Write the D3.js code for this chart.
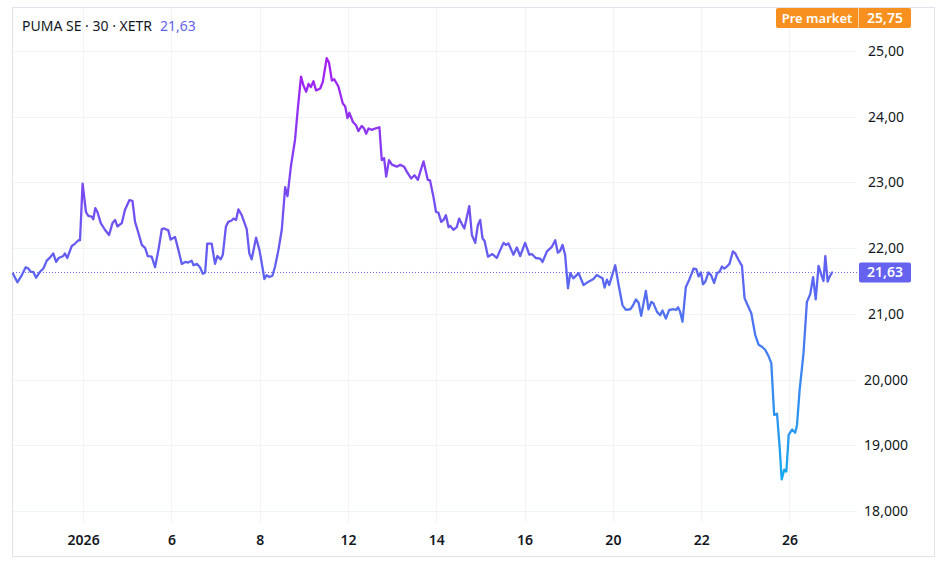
<!DOCTYPE html>
<html lang="en">
<head>
<meta charset="UTF-8">
<title>PUMA SE · 30 · XETR</title>
<style>
  body { margin: 0; background: #fff; }
  svg text { font-family: "Noto Sans", sans-serif; }
</style>
<script src="https://d3js.org/d3.v7.min.js"></script>
</head>
<body>
<script>
// 30-minute bars counted from the first bar on screen
const barTime = [
  0,1.7,3.4,4.9,5.9,6.8,7.8,8.9,10.4,11.7,13.0,14.3,15.5,16.6,17.6,19.4,20.0,20.9,22.6,23.9,
  25.2,25.8,26.8,28.1,29.0,30.3,30.9,31.7,32.5,33.8,35.4,37.0,38.3,39.3,40.2,41.9,43.1,44.8,46.0,47.0,
  48.3,49.6,50.9,51.9,53.4,
  54.7,56.0,57.3,58.2,59.8,60.7,62.4,63.7,65.0,66.3,67.5,68.8,69.5,70.8,72.0,73.1,74.0,74.8,76.5,77.8,
  78.7,80.0,80.8,82.0,82.9,84.2,84.9,85.9,86.8,88.1,90.0,91.0,91.9,93.6,94.9,95.8,96.8,97.7,98.7,99.9,
  100.9,102.2,103.5,
  104.8,105.7,107.0,108.6,109.7,110.9,111.8,112.9,113.8,114.7,115.7,116.7,118.3,119.3,120.8,121.7,122.8,123.7,125.3,127.0,
  127.9,128.8,129.5,130.9,132.1,133.0,134.3,135.2,136.0,136.9,138.2,139.4,141.1,142.0,142.9,143.7,144.8,145.9,147.8,149.1,
  150.6,151.7,
  153.3,154.6,155.9,156.8,158.1,159.7,160.6,161.9,162.9,163.8,164.9,165.8,166.7,167.7,168.3,169.6,170.9,171.8,172.8,173.8,
  175.7,176.7,178.0,179.0,179.9,180.8,181.6,182.9,184.6,186.3,187.6,188.9,189.8,190.8,192.7,194.0,195.3,197.2,198.8,199.8,
  201.3,203.0,203.9,205.6,
  207.5,208.8,209.8,210.7,211.6,212.6,213.7,214.6,215.8,217.8,219.7,221.6,223.5,224.8,226.1,227.0,227.8,228.7,229.6,231.9,
  233.2,234.7,236.0,237.7,238.6,239.9,240.9,241.9,243.7,244.7,245.8,246.6,248.0,249.2,250.1,251.4,252.7,254.4,255.3,256.1,
  256.9,257.8,259.1,260.4,262.1,
  263.1,264.0,264.9,265.7,266.6,267.8,268.8,270.0,271.1,272.1,273.0,273.9,274.9,275.9,277.2,278.1,279.4,280.7,281.7,282.9,
  284.3,285.8,287.1,288.4,289.7,291.0,292.0,293.1,294.2,295.2,296.0,297.0,297.8,298.7,300.0,301.2,301.9,302.9,304.4,305.7,
  307.0,308.1,309.1,310.2,311.3,312.1,312.8,313.7,314.4,315.4
];

const prices = [
  21.61,21.48,21.59,21.71,21.69,21.64,21.64,21.55,21.64,21.69,21.81,21.86,21.92,21.79,21.85,21.88,21.92,21.85,22.03,22.07,
  22.12,22.12,22.98,22.55,22.49,22.48,22.44,22.61,22.55,22.38,22.28,22.20,22.38,22.43,22.33,22.38,22.58,22.73,22.72,22.40,
  22.23,22.05,22.00,21.88,21.87,
  21.71,21.97,22.29,22.30,22.27,22.13,22.17,21.97,21.76,21.79,21.78,21.81,21.74,21.76,21.71,21.61,21.63,22.07,22.07,21.76,
  21.88,21.83,21.90,22.33,22.40,22.42,22.45,22.43,22.59,22.50,22.29,21.92,21.83,22.16,21.97,21.77,21.53,21.59,21.56,21.58,
  21.72,21.97,22.28,
  22.93,22.79,23.24,23.65,24.13,24.61,24.48,24.38,24.50,24.45,24.54,24.40,24.43,24.53,24.89,24.82,24.55,24.57,24.46,24.20,
  24.16,23.98,24.06,23.92,23.87,23.78,23.86,23.82,23.74,23.82,23.80,23.82,23.84,23.34,23.37,23.09,23.34,23.27,23.24,23.27,
  23.24,23.16,
  23.06,23.11,23.04,23.16,23.32,23.04,23.03,22.78,22.55,22.54,22.40,22.43,22.50,22.32,22.34,22.28,22.32,22.45,22.37,22.30,
  22.64,22.20,22.08,22.35,22.43,22.15,22.11,21.87,21.91,21.85,21.97,22.08,22.05,22.07,21.90,22.01,21.88,22.08,21.90,21.91,
  21.85,21.84,21.79,21.95,
  22.02,22.12,21.93,21.96,22.05,21.90,21.39,21.62,21.54,21.62,21.44,21.49,21.53,21.59,21.56,21.54,21.40,21.52,21.44,21.74,
  21.44,21.13,21.06,21.07,21.12,21.22,21.17,20.97,21.35,21.07,21.18,21.16,21.03,20.98,21.05,20.93,21.06,21.07,21.06,21.10,
  21.03,20.88,21.41,21.52,21.69,
  21.68,21.57,21.63,21.45,21.49,21.63,21.59,21.47,21.62,21.64,21.72,21.69,21.72,21.76,21.95,21.92,21.82,21.73,21.24,21.13,
  21.01,20.68,20.53,20.50,20.45,20.35,20.25,19.46,19.48,18.98,18.48,18.63,18.60,19.16,19.24,19.19,19.31,19.84,20.40,21.18,
  21.30,21.56,21.22,21.73,21.59,21.50,21.88,21.49,21.56,21.63
];

// time axis: one label every two trading days (17 bars a day)
const timeTicks = [27, 61, 95, 129, 163, 197, 231, 265, 299];
const timeLabels = ["2026", "6", "8", "12", "14", "16", "20", "22", "26"];

const priceTicks = [18, 19, 20, 21, 22, 23, 24, 25];
const priceLabels = ["18,000", "19,000", "20,000", "21,00", "22,00", "23,00", "24,00", "25,00"];

const lastPrice = 21.63;
const lastLabel = "21,63";
const preMarketLabel = "25,75";
const title = "PUMA SE · 30 · XETR";

const W = 948, H = 578;
const frame = { left: 12.5, top: 7.5, right: 934.5, bottom: 556.5 };
const plotRight = 857;
const gridBottom = 522;

const svg = d3.select("body").append("svg")
  .attr("width", W)
  .attr("height", H);

const x = d3.scaleLinear().domain([0, 325]).range([13, plotRight]);
const y = d3.scaleLinear().domain([18, 25]).range([511, 51]);

// frame
svg.append("rect")
  .attr("x", frame.left).attr("y", frame.top)
  .attr("width", frame.right - frame.left)
  .attr("height", frame.bottom - frame.top)
  .attr("fill", "#fff")
  .attr("stroke", "#e0e3eb");

// grid
svg.append("g").selectAll("line")
  .data(timeTicks)
  .join("line")
  .attr("x1", d => Math.round(x(d)) + 0.5)
  .attr("x2", d => Math.round(x(d)) + 0.5)
  .attr("y1", frame.top + 0.5)
  .attr("y2", gridBottom)
  .attr("stroke", "#f0f3fa");

svg.append("g").selectAll("line")
  .data(priceTicks)
  .join("line")
  .attr("x1", 13)
  .attr("x2", plotRight)
  .attr("y1", d => Math.round(y(d)) + 0.5)
  .attr("y2", d => Math.round(y(d)) + 0.5)
  .attr("stroke", "#f0f3fa");

// axes labels
const xAxis = d3.axisBottom(x)
  .tickValues(timeTicks)
  .tickFormat((d, i) => timeLabels[i])
  .tickSize(0)
  .tickPadding(0);

const gx = svg.append("g")
  .attr("transform", `translate(0, ${535})`)
  .call(xAxis);
gx.select(".domain").remove();
gx.selectAll("text")
  .attr("font-size", 14)
  .attr("font-weight", 600)
  .attr("font-family", "\"Noto Sans\", sans-serif")
  .attr("fill", "#131722");

const yAxis = d3.axisRight(y)
  .tickValues(priceTicks)
  .tickFormat((d, i) => priceLabels[i])
  .tickSize(0)
  .tickPadding(0);

const gy = svg.append("g")
  .attr("transform", `translate(${886}, 0)`)
  .call(yAxis);
gy.select(".domain").remove();
gy.selectAll("text")
  .attr("text-anchor", "middle")
  .attr("font-size", 14)
  .attr("font-family", "\"Noto Sans\", sans-serif")
  .attr("fill", "#131722");

// last price dotted line
svg.append("line")
  .attr("x1", 13).attr("x2", plotRight)
  .attr("y1", y(lastPrice)).attr("y2", y(lastPrice))
  .attr("stroke", "#6b63ef")
  .attr("stroke-width", 1)
  .attr("stroke-dasharray", "1,2");

// gradient line
const grad = svg.append("defs").append("linearGradient")
  .attr("id", "lineGrad")
  .attr("gradientUnits", "userSpaceOnUse")
  .attr("x1", 0).attr("x2", 0)
  .attr("y1", y(d3.max(prices)))
  .attr("y2", y(d3.min(prices)));
grad.append("stop").attr("offset", "0%").attr("stop-color", "#a61ff3");
grad.append("stop").attr("offset", "50%").attr("stop-color", "#5f62f1");
grad.append("stop").attr("offset", "100%").attr("stop-color", "#17aaf0");

const line = d3.line()
  .x((d, i) => x(barTime[i]))
  .y(d => y(d));

svg.append("path")
  .datum(prices)
  .attr("d", line)
  .attr("fill", "none")
  .attr("stroke", "url(#lineGrad)")
  .attr("stroke-width", 2.3)
  .attr("stroke-linejoin", "round")
  .attr("stroke-linecap", "round");

// last price badge
const ly = y(lastPrice);
svg.append("rect")
  .attr("x", 859).attr("y", ly - 10)
  .attr("width", 52).attr("height", 20)
  .attr("rx", 2)
  .attr("fill", "#6462ef");
svg.append("text")
  .attr("x", 885).attr("y", ly)
  .attr("dy", "0.35em")
  .attr("text-anchor", "middle")
  .attr("font-size", 14)
  .attr("font-weight", 600)
  .attr("fill", "#fff")
  .text(lastLabel);

// pre market badge
const pm = svg.append("g");
pm.append("rect")
  .attr("x", 776).attr("y", 8)
  .attr("width", 135).attr("height", 20)
  .attr("rx", 2)
  .attr("fill", "#f7901e");
pm.append("line")
  .attr("x1", 858.5).attr("x2", 858.5)
  .attr("y1", 8).attr("y2", 28)
  .attr("stroke", "#fff")
  .attr("stroke-opacity", 0.6);
pm.append("text")
  .attr("x", 817).attr("y", 18)
  .attr("dy", "0.35em")
  .attr("text-anchor", "middle")
  .attr("font-size", 13)
  .attr("font-weight", 600)
  .attr("fill", "#fff")
  .text("Pre market");
pm.append("text")
  .attr("x", 885).attr("y", 18)
  .attr("dy", "0.35em")
  .attr("text-anchor", "middle")
  .attr("font-size", 14)
  .attr("font-weight", 600)
  .attr("fill", "#fff")
  .text(preMarketLabel);

// title
const t = svg.append("text")
  .attr("x", 22).attr("y", 26)
  .attr("dy", "0.35em")
  .attr("font-size", 14)
  .attr("fill", "#131722")
  .text(title);
t.append("tspan")
  .attr("dx", 8)
  .attr("fill", "#6462ef")
  .text(lastLabel);
</script>
</body>
</html>
